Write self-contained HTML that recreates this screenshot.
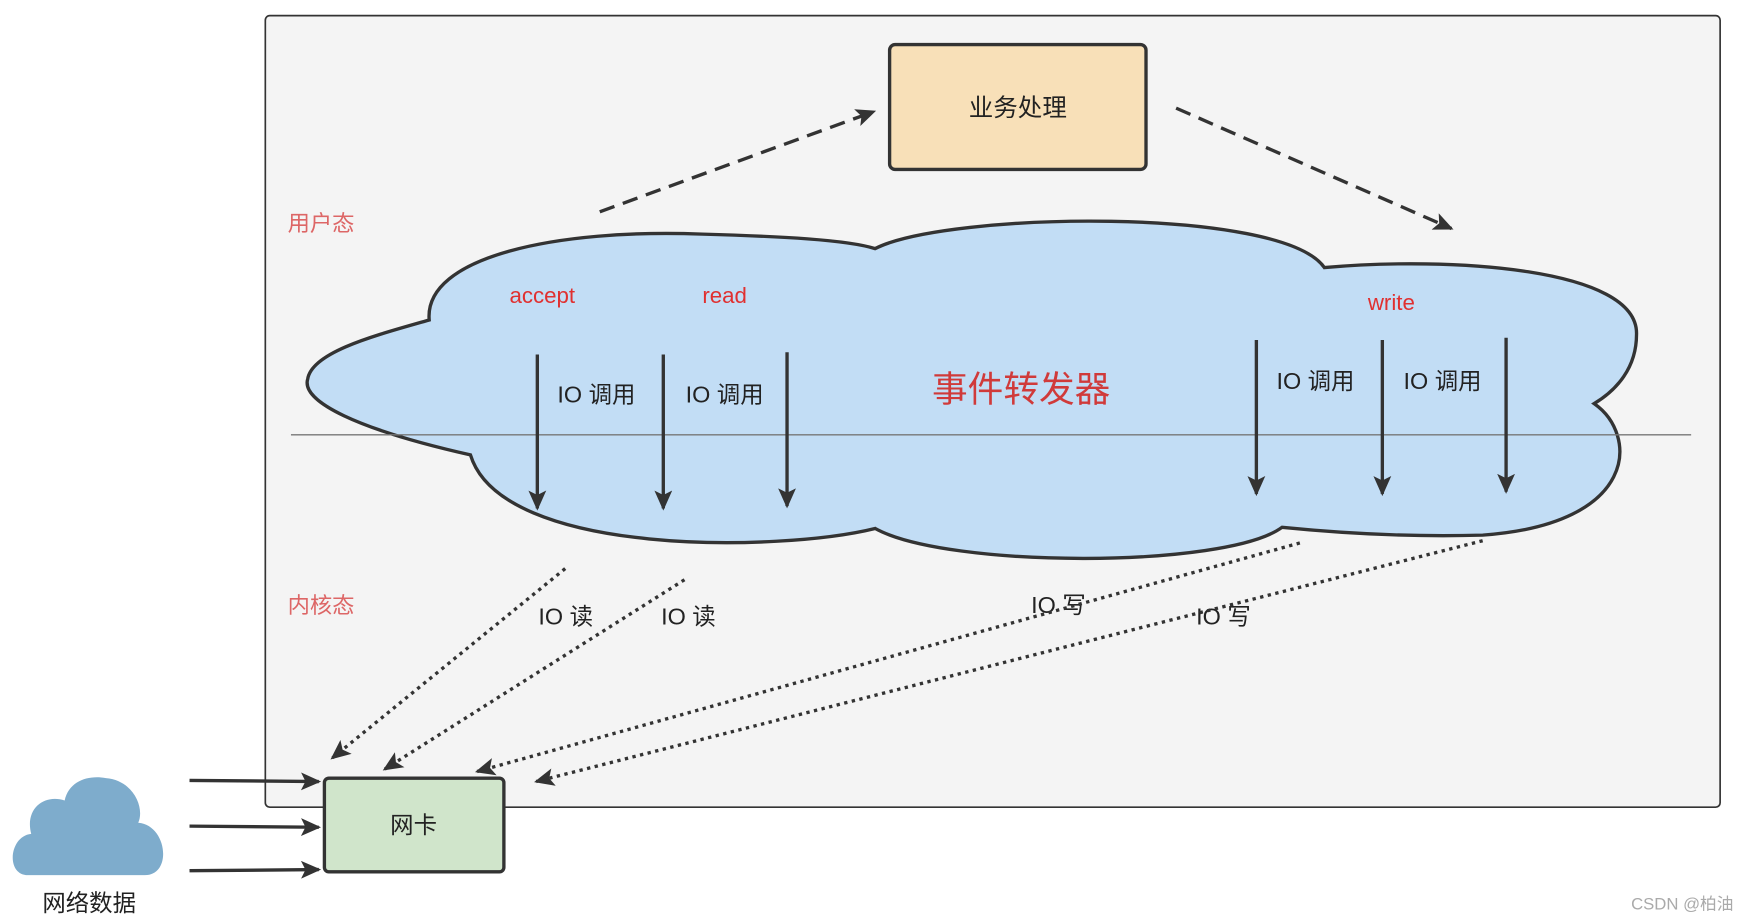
<!DOCTYPE html>
<html><head><meta charset="utf-8"><style>
html,body{margin:0;padding:0;background:#fff;}
svg{display:block;}
text{font-family:"Liberation Sans","Noto Sans CJK SC",sans-serif;}
</style></head><body>
<svg width="1748" height="922" viewBox="0 0 1568 827" preserveAspectRatio="none" xmlns="http://www.w3.org/2000/svg">
<defs>
<marker id="a" markerWidth="10" markerHeight="10" refX="8" refY="5" orient="auto" markerUnits="userSpaceOnUse" viewBox="0 0 10 10"><path d="M0,0 L10,5 L0,10 z" fill="#333"/></marker>
<marker id="b" markerWidth="18" markerHeight="16" refX="16" refY="8" orient="auto" markerUnits="userSpaceOnUse"><path d="M0,0 L18,8 L0,16 L4,8 z" fill="#333"/></marker>
</defs>
<rect x="238" y="14" width="1305" height="710" rx="4" fill="#f4f4f4" stroke="#333" stroke-width="1.5"/>
<rect x="798" y="40" width="230" height="112" rx="5" fill="#f8e0b8" stroke="#333" stroke-width="3"/>
<text x="913" y="104" font-size="22" text-anchor="middle" fill="#222">业务处理</text>
<text x="258" y="207" font-size="20" fill="#d66">用户态</text>
<text x="258" y="550" font-size="20" fill="#d66">内核态</text>
<path d="M385,287 C380,230 500,205 630,210 C700,212 760,215 785,223 C850,190 1150,185 1188,240 C1300,230 1470,240 1468,300 C1468,330 1450,350 1430,362 C1470,390 1470,470 1330,480 C1260,482 1200,478 1150,473 C1100,510 850,510 785,474 C700,495 450,500 422,408 C320,385 270,360 276,340 C280,315 340,300 385,287 Z" fill="#c2ddf5" stroke="#333" stroke-width="3"/>
<line x1="261" y1="390" x2="1517" y2="390" stroke="#777" stroke-width="1.2"/>
<g font-size="20" fill="#e03030">
<text x="457" y="272">accept</text><text x="630" y="272">read</text><text x="1227" y="278">write</text>
</g>
<text x="916" y="360" font-size="32" text-anchor="middle" fill="#d03a3a">事件转发器</text>
<g font-size="21" fill="#222">
<text x="500" y="361">IO 调用</text><text x="615" y="361">IO 调用</text>
<text x="1145" y="349">IO 调用</text><text x="1259" y="349">IO 调用</text>
<text x="483" y="560">IO 读</text><text x="593" y="560">IO 读</text>
<text x="925" y="550">IO 写</text><text x="1073" y="560">IO 写</text>
</g>
<g stroke="#333" stroke-width="3" marker-end="url(#b)">
<line x1="482" y1="318" x2="482" y2="456"/>
<line x1="595" y1="318" x2="595" y2="456"/>
<line x1="706" y1="316" x2="706" y2="454"/>
<line x1="1127" y1="305" x2="1127" y2="443"/>
<line x1="1240" y1="305" x2="1240" y2="443"/>
<line x1="1351" y1="303" x2="1351" y2="441"/>
<line x1="538" y1="190" x2="784" y2="100" stroke-dasharray="14,8"/>
<line x1="1055" y1="97" x2="1302" y2="205" stroke-dasharray="14,8"/>
<line x1="507" y1="510" x2="298" y2="680" stroke-dasharray="3,4"/>
<line x1="614" y1="520" x2="345" y2="690" stroke-dasharray="3,4"/>
<line x1="1166" y1="487" x2="428" y2="692" stroke-dasharray="3,4"/>
<line x1="1330" y1="485" x2="481" y2="701" stroke-dasharray="3,4"/>
<line x1="170" y1="700" x2="286" y2="701"/>
<line x1="170" y1="741" x2="286" y2="742"/>
<line x1="170" y1="781" x2="286" y2="780"/>
</g>
<rect x="291" y="698" width="161" height="84" rx="4" fill="#d0e5cb" stroke="#333" stroke-width="3"/>
<text x="371" y="747" font-size="21" text-anchor="middle" fill="#222">网卡</text>
<path d="M25,785 C5,785 8,750 28,748 C22,725 40,712 58,718 C62,700 80,695 95,698 C120,700 130,725 124,738 C150,740 155,785 130,785 Z" fill="#7eaccc"/>
<text x="80" y="817" font-size="21" text-anchor="middle" fill="#222">网络数据</text>
<text x="1555" y="816" font-size="15" text-anchor="end" fill="#aaa">CSDN @柏油</text>
</svg>
</body></html>
